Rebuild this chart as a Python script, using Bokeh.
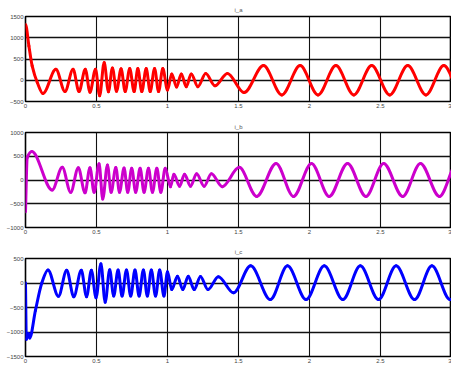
from bokeh.plotting import figure
from bokeh.layouts import column
from bokeh.models import FixedTicker
from bokeh.embed import file_html
from bokeh.resources import INLINE

# ---- data (time in s, current) ----
t_a = [0.0, 0.024, 0.047, 0.083, 0.123, 0.214, 0.278, 0.335, 0.377, 0.421, 0.454, 0.493, 0.522, 0.554,
       0.584, 0.612, 0.641, 0.673, 0.702, 0.734, 0.765, 0.791, 0.819, 0.850, 0.878, 0.909, 0.937, 0.967,
       1.0, 1.03, 1.064, 1.097, 1.132, 1.167, 1.214, 1.269, 1.334, 1.422, 1.539, 1.676, 1.805, 1.934,
       2.06, 2.186, 2.312, 2.438, 2.565, 2.692, 2.82, 2.946, 3.073]
v_a = [1310, 807, 338, -54, -312, 258, -265, 258, -265, 258, -280, 258, -366, 415,
       -270, 290, -260, 270, -265, 275, -265, 275, -265, 275, -265, 275, -265, 275,
       -230, 150, -160, 150, -150, 150, -150, 160, -130, 160, -290, 345, -345, 345,
       -345, 345, -345, 345, -345, 345, -345, 345, -345]

t_b = [0.0, 0.012, 0.045, 0.188, 0.259, 0.318, 0.372, 0.419, 0.454, 0.483, 0.518, 0.544, 0.577, 0.603,
       0.636, 0.662, 0.694, 0.720, 0.748, 0.776, 0.807, 0.835, 0.866, 0.894, 0.925, 0.953, 0.984,
       1.021, 1.045, 1.085, 1.12, 1.162, 1.205, 1.258, 1.309, 1.386, 1.505, 1.628, 1.765, 1.887, 2.014,
       2.139, 2.268, 2.397, 2.522, 2.656, 2.781, 2.915, 3.04]
v_b = [-670, 470, 600, -211, 267, -260, 260, -270, 260, -260, 340, -400, 316, -260,
       265, -260, 255, -260, 250, -260, 250, -260, 250, -260, 250, -260, 250,
       -140, 120, -130, 120, -130, 130, -130, 130, -140, 267, -345, 350, -345, 350,
       -345, 350, -345, 350, -345, 350, -345, 350]

t_c = [0.0, 0.006, 0.02, 0.03, 0.07, 0.115, 0.158, 0.232, 0.29, 0.34, 0.393, 0.43, 0.464, 0.497, 0.531,
       0.561, 0.593, 0.621, 0.652, 0.680, 0.711, 0.741, 0.771, 0.800, 0.830, 0.858, 0.886, 0.916, 0.945,
       0.975, 1.0, 1.03, 1.07, 1.108, 1.146, 1.188, 1.232, 1.285, 1.358, 1.465, 1.586, 1.724, 1.845,
       1.976, 2.104, 2.235, 2.358, 2.486, 2.61, 2.74, 2.862, 2.99, 3.12]
v_c = [0, -1150, -1030, -1120, -560, 0, 265, -272, 260, -280, 260, -280, 260, -300, 395,
       -392, 270, -265, 265, -265, 265, -265, 265, -265, 265, -265, 265, -265, 265,
       -265, 230, -135, 137, -135, 137, -135, 135, -135, 130, -200, 350, -338, 350,
       -338, 350, -338, 350, -338, 350, -338, 350, -338, 350]

x_ticks = [0, 0.5, 1, 1.5, 2, 2.5, 3]
x_labels = ["0", "0.5", "1", "1.5", "2", "2.5", "3"]
yticks_a = [-500, 0, 500, 1000, 1500]
yticks_b = [-1000, -500, 0, 500, 1000]
yticks_c = [-1500, -1000, -500, 0, 500]
titles = ["i_a", "i_b", "i_c"]
x_title = "Time"

FONT = "Liberation Sans"


def segments(t, v):
    n = len(t)
    d = [(v[i + 1] - v[i]) / (t[i + 1] - t[i]) for i in range(n - 1)]
    m = [0.0] * n
    m[0] = d[0] if abs(v[1] - v[0]) > 600 else 0.0
    for i in range(1, n - 1):
        if d[i - 1] * d[i] > 0:
            m[i] = 2.0 / (1.0 / d[i - 1] + 1.0 / d[i])
    x0, y0, x1, y1, cx0, cy0, cx1, cy1 = [], [], [], [], [], [], [], []
    for i in range(n - 1):
        dt = t[i + 1] - t[i]
        x0.append(t[i]); y0.append(v[i]); x1.append(t[i + 1]); y1.append(v[i + 1])
        cx0.append(t[i] + dt / 3); cy0.append(v[i] + m[i] * dt / 3)
        cx1.append(t[i + 1] - dt / 3); cy1.append(v[i + 1] - m[i + 1] * dt / 3)
    return dict(x0=x0, y0=y0, x1=x1, y1=y1, cx0=cx0, cy0=cy0, cx1=cx1, cy1=cy1)


def make_fig(title, t, v, color, yticks, height, btop, bbottom, tstand, xlabel=None):
    p = figure(width=451, height=height, x_range=(0, 3), y_range=(yticks[0], yticks[-1]),
               output_backend="svg", toolbar_location=None, title=title,
               min_border_left=25, min_border_right=0, min_border_top=btop,
               min_border_bottom=bbottom)
    p.title.text_font_size = "6px"
    p.title.align = "center"
    p.title.text_color = "#555555"
    p.title.text_font = FONT
    p.title.text_font_style = "normal"
    p.title.standoff = tstand
    p.title.offset = 0
    p.outline_line_color = "black"
    p.outline_line_width = 1.6
    p.background_fill_color = "white"
    p.border_fill_color = "white"

    p.xaxis.ticker = FixedTicker(ticks=x_ticks)
    p.xaxis.major_label_overrides = {tk: lb for tk, lb in zip(x_ticks, x_labels)}
    p.yaxis.ticker = FixedTicker(ticks=yticks)
    for ax in (p.xaxis, p.yaxis):
        ax.axis_line_color = None
        ax.major_tick_out = 0
        ax.major_tick_in = 0
        ax.minor_tick_line_color = None
        ax.major_label_text_font_size = "6px"
        ax.major_label_text_font = FONT
        ax.major_label_text_color = "#444444"
        ax.major_label_standoff = 2
    if xlabel:
        p.xaxis.axis_label = xlabel
        p.xaxis.axis_label_text_font_size = "6px"
        p.xaxis.axis_label_text_font = FONT
        p.xaxis.axis_label_text_font_style = "normal"
        p.xaxis.axis_label_text_color = "#444444"
        p.xaxis.axis_label_standoff = 2
    p.xgrid.grid_line_color = "#111111"
    p.xgrid.grid_line_width = 1.1
    p.ygrid.grid_line_color = "#111111"
    p.ygrid.grid_line_width = 1.5

    p.bezier(source=segments(t, v), x0="x0", y0="y0", x1="x1", y1="y1",
             cx0="cx0", cy0="cy0", cx1="cx1", cy1="cy1",
             line_color=color, line_width=3, line_cap="round")
    return p


pa = make_fig(titles[0], t_a, v_a, "#ff0000", yticks_a, 115, 16, 14, 8)
pb = make_fig(titles[1], t_b, v_b, "#cc00cc", yticks_b, 125, 17, 13, 6)
pc = make_fig(titles[2], t_c, v_c, "#0000ff", yticks_c, 134, 18, 18, 7)

layout = column(pa, pb, pc, spacing=0)
open("out.html", "w").write(file_html(layout, INLINE))
